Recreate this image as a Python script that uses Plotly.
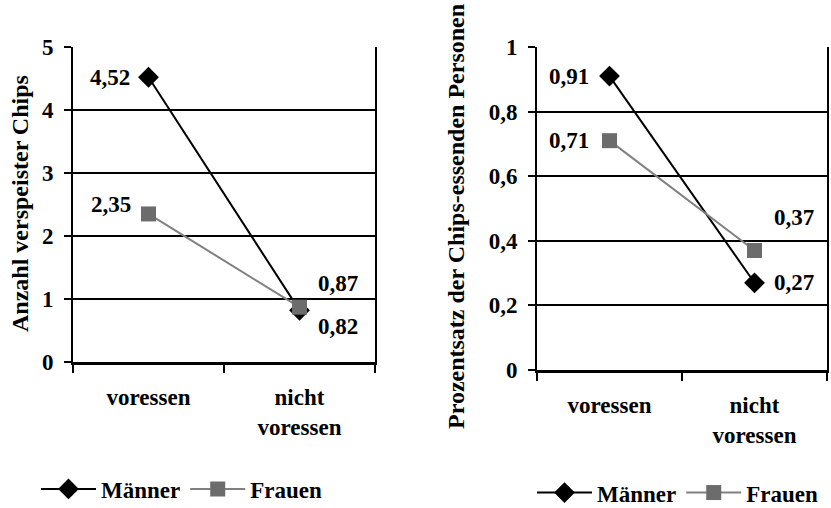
import plotly.graph_objects as go

categories = ["voressen", "nicht<br>voressen"]
series_names = ["Männer", "Frauen"]
chips_maenner = [4.52, 0.82]
chips_frauen = [2.35, 0.87]
pct_maenner = [0.91, 0.27]
pct_frauen = [0.71, 0.37]
left_title = "Anzahl verspeister Chips"
right_title = "Prozentsatz der Chips-essenden Personen"

FONT = "Liberation Serif, Times New Roman, serif"
fs = 23

def fmt(v):
    return f"{v:.2f}".replace(".", ",")

def F(size=fs):
    return dict(family=FONT, size=size, color="black", weight="bold")

fig = go.Figure()

styles = [
    dict(color="#000000", msym="diamond", msize=16, mcolor="#000000"),
    dict(color="#808080", msym="square", msize=15, mcolor="#6c6c6c"),
]

left_data = [chips_maenner, chips_frauen]
right_data = [pct_maenner, pct_frauen]

for i, (name, vals) in enumerate(zip(series_names, left_data)):
    s = styles[i]
    fig.add_trace(go.Scatter(
        x=categories, y=vals, name=name, mode="lines+markers",
        line=dict(color=s["color"], width=2),
        marker=dict(symbol=s["msym"], size=s["msize"], color=s["mcolor"]),
        xaxis="x", yaxis="y", legend="legend"))
for i, (name, vals) in enumerate(zip(series_names, right_data)):
    s = styles[i]
    fig.add_trace(go.Scatter(
        x=categories, y=vals, name=name, mode="lines+markers",
        line=dict(color=s["color"], width=2),
        marker=dict(symbol=s["msym"], size=s["msize"], color=s["mcolor"]),
        xaxis="x2", yaxis="y2", legend="legend2"))

label_specs = [
    ("x", "y", 0, chips_maenner[0], "right", "middle", -17, 0),
    ("x", "y", 1, chips_maenner[1], "left", "middle", 16, -16),
    ("x", "y", 0, chips_frauen[0], "right", "middle", -16, 9),
    ("x", "y", 1, chips_frauen[1], "left", "middle", 16, 24),
    ("x2", "y2", 0, pct_maenner[0], "right", "middle", -19, 0),
    ("x2", "y2", 1, pct_maenner[1], "left", "middle", 17, 0),
    ("x2", "y2", 0, pct_frauen[0], "right", "middle", -19, 0),
    ("x2", "y2", 1, pct_frauen[1], "left", "middle", 17, 33),
]
for xa, ya, ci, v, xan, yan, xs, ys in label_specs:
    fig.add_annotation(x=categories[ci], y=v, xref=xa, yref=ya, text=fmt(v),
                       showarrow=False, xanchor=xan, yanchor=yan,
                       xshift=xs, yshift=ys, font=F())

fig.add_annotation(x=20/831, y=1-204/508, xref="paper", yref="paper", text=left_title,
                   textangle=-90, showarrow=False, xanchor="center", yanchor="middle",
                   font=F(24))
fig.add_annotation(x=456/831, y=1-217/508, xref="paper", yref="paper", text=right_title,
                   textangle=-90, showarrow=False, xanchor="center", yanchor="middle",
                   font=F(24))

xcommon = dict(type="category", tickson="boundaries", range=[-0.5, 1.5],
               showline=True, linecolor="black", linewidth=3, mirror=False,
               ticks="outside", ticklen=8, tickwidth=2, tickcolor="black",
               showgrid=False, zeroline=False, fixedrange=True, automargin=False,
               tickfont=F(), ticklabelstandoff=12)
ycommon = dict(showline=True, linecolor="black", linewidth=2, mirror=True,
               ticks="outside", ticklen=7, tickwidth=2, tickcolor="black",
               showgrid=True, gridcolor="black", gridwidth=2, zeroline=False,
               automargin=False, tickfont=F(), ticklabelstandoff=6)

fig.update_layout(
    width=831, height=508, margin=dict(l=0, r=0, t=0, b=0, autoexpand=False),
    paper_bgcolor="white", plot_bgcolor="white",
    separators=",.",
    xaxis=dict(domain=[73/831, 375/831], anchor="y", **xcommon),
    yaxis=dict(domain=[1-362/508, 1-47/508], anchor="x", range=[0, 5], dtick=1, **ycommon),
    xaxis2=dict(domain=[537/831, 827/831], anchor="y2", **xcommon),
    yaxis2=dict(domain=[1-370/508, 1-47/508], anchor="x2", range=[0, 1], dtick=0.2, **ycommon),
    legend=dict(orientation="h", x=36/831, y=1-489/508, xanchor="left", yanchor="middle",
                font=F(), bgcolor="rgba(0,0,0,0)", itemwidth=55, tracegroupgap=0),
    legend2=dict(orientation="h", x=532/831, y=-0.012, xanchor="left", yanchor="bottom",
                 font=F(), bgcolor="rgba(0,0,0,0)", itemwidth=55, tracegroupgap=0),
    showlegend=True,
)

fig.write_html("out.html")
